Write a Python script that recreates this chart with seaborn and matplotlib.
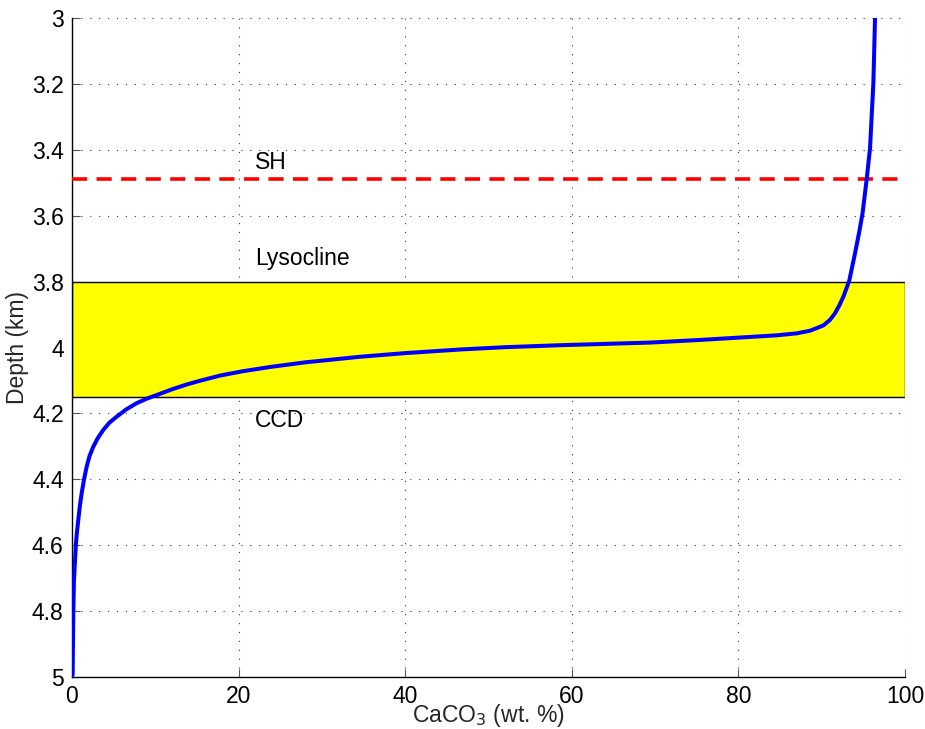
import matplotlib
matplotlib.use("Agg")
import matplotlib.pyplot as plt
import seaborn as sns
import pandas as pd

# CaCO3 content (wt. %) versus water depth (km)
caco3 = [96.4, 96.2, 95.8, 95.4, 94.9, 94.5, 94.0, 93.3, 92.6, 92.1, 91.6, 91.0,
         90.2, 88.6, 87.0, 84.6, 80.0, 75.4, 69.4, 64.0, 58.6, 52.0, 46.6, 40.0,
         34.6, 28.0, 23.8, 20.5, 17.8, 15.5, 13.8, 12.0, 10.2, 9.0, 7.76, 6.5,
         5.36, 4.5, 3.76, 3.1, 2.56, 2.1, 1.76, 1.45, 1.16, 0.95, 0.76, 0.6,
         0.48, 0.36, 0.24, 0.16, 0.08]
depth = [3.000, 3.198, 3.395, 3.489, 3.593, 3.650, 3.714, 3.798, 3.846, 3.873,
         3.896, 3.916, 3.933, 3.949, 3.957, 3.963, 3.970, 3.977, 3.985, 3.989,
         3.993, 3.999, 4.006, 4.017, 4.028, 4.045, 4.059, 4.072, 4.085, 4.100,
         4.112, 4.127, 4.144, 4.155, 4.169, 4.188, 4.210, 4.228, 4.250, 4.275,
         4.301, 4.330, 4.362, 4.400, 4.443, 4.480, 4.523, 4.560, 4.594, 4.650,
         4.706, 4.807, 4.994]

sh_depth = 3.49
lysocline_depth = 3.80
ccd_depth = 4.15

labels = ["SH", "Lysocline", "CCD"]
label_depths = [3.44, 3.73, 4.22]
label_x = 22

x_ticks = [0, 20, 40, 60, 80, 100]
y_ticks = [3, 3.2, 3.4, 3.6, 3.8, 4, 4.2, 4.4, 4.6, 4.8, 5]
y_ticklabels = ["3", "3.2", "3.4", "3.6", "3.8", "4", "4.2", "4.4", "4.6", "4.8", "5"]

FS = 16.5

sns.set_style("white")
plt.rcParams["font.family"] = ["Liberation Sans", "DejaVu Sans"]

fig = plt.figure(figsize=(9.25, 7.29), dpi=100)
ax = fig.add_axes([0.0778, 0.0713, 0.9006, 0.904])

df = pd.DataFrame({"caco3": caco3, "depth": depth})

# Transition zone between lysocline and CCD
ax.axhspan(lysocline_depth, ccd_depth, xmin=0, xmax=1, facecolor="#ffff00",
           edgecolor="black", linewidth=1.0, zorder=1)

# Saturation horizon
ax.axhline(sh_depth, color="red", linewidth=2.6, linestyle=(0, (4.2, 2.6)), zorder=3)

sns.lineplot(data=df, x="caco3", y="depth", sort=False, estimator=None,
             color="blue", linewidth=2.9, ax=ax, zorder=4)
for ln in ax.get_lines():
    if ln.get_color() == "blue":
        ln.set_solid_joinstyle("round")

for txt, d in zip(labels, label_depths):
    ax.text(label_x, d, txt, fontsize=FS, ha="left", va="center", color="black", zorder=5)

ax.set_xlim(0, 100)
ax.set_ylim(5, 3)
ax.set_xticks(x_ticks)
ax.set_xticklabels([str(v) for v in x_ticks])
ax.set_yticks(y_ticks)
ax.set_yticklabels(y_ticklabels)

ax.grid(True, color="#333333", linestyle=(0, (1, 7)), linewidth=0.8)
ax.set_axisbelow(True)
for s in ["top", "right"]:
    ax.spines[s].set_visible(False)
for s in ["left", "bottom"]:
    ax.spines[s].set_visible(True)
    ax.spines[s].set_color("black")
    ax.spines[s].set_linewidth(1.0)

ax.tick_params(axis="both", direction="in", length=6, width=0.8, color="#555555",
               labelsize=FS, labelcolor="black", pad=6, left=True, bottom=True)

ax.set_xlabel("CaCO$_3$ (wt. %)", fontsize=FS)
ax.set_ylabel("Depth (km)", fontsize=FS)
ax.xaxis.set_label_coords(0.5, -0.038)
ax.yaxis.set_label_coords(-0.052, 0.5)

fig.savefig("out.png", dpi=100, facecolor="white")
